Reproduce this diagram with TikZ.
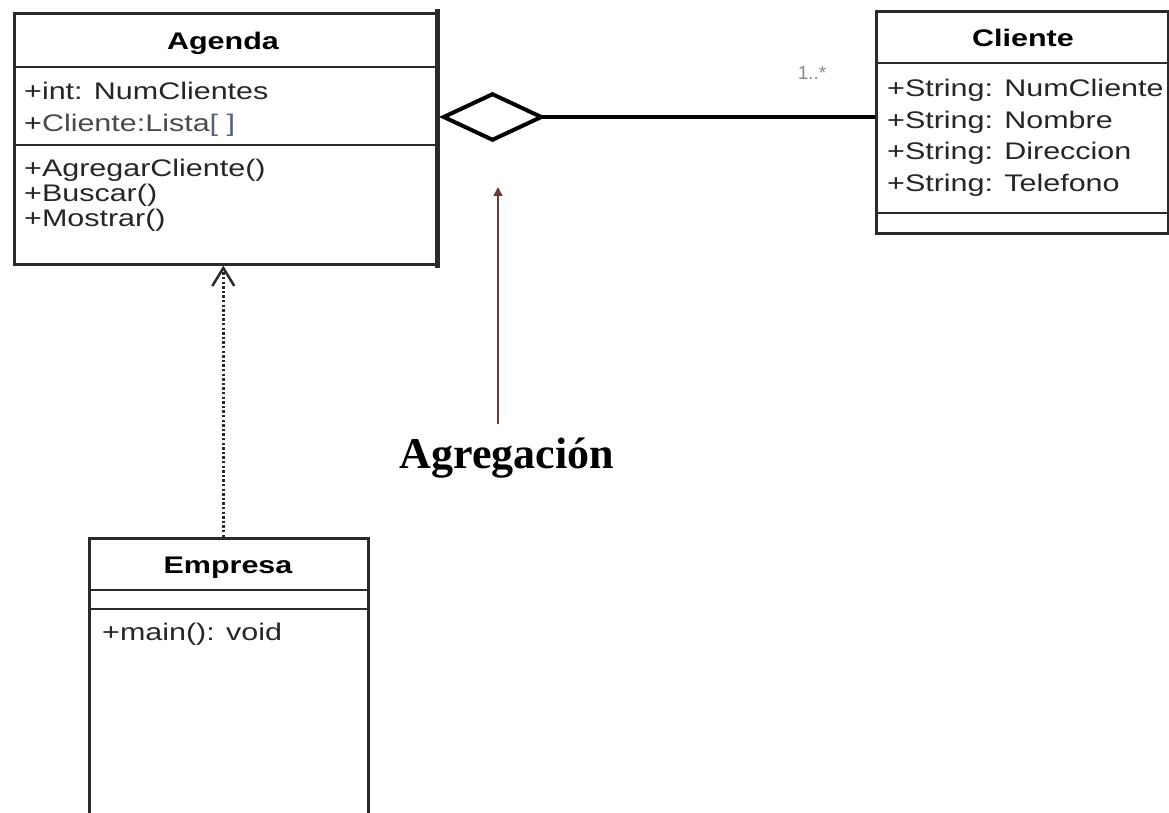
\documentclass[tikz,border=0pt]{standalone}
\usepackage{fontspec}
\setmainfont{Liberation Serif}
\setsansfont{Liberation Sans}
\usetikzlibrary{arrows.meta}

% UML member text is set a little wider than the font's natural width
\newcommand{\umlwide}[1]{\scalebox{1.27}[1]{#1}}

\definecolor{boxline}{HTML}{2A2A2A}
\definecolor{membertxt}{HTML}{262626}
\definecolor{softtxt}{HTML}{4A4A4A}
\definecolor{bracket}{HTML}{56607A}
\definecolor{notebrown}{HTML}{6B3B36}
\definecolor{multgray}{HTML}{8A8A8A}

\begin{document}
\begin{tikzpicture}[x=1pt,y=-1pt,
  umlbox/.style={draw=boxline, line width=2.6pt, inner sep=0pt, anchor=north west},
  divider/.style={draw=boxline, line width=2.6pt},
  member/.style={anchor=base west, inner sep=0pt, text=membertxt,
    font=\sffamily\fontsize{24}{24}\selectfont},
  classname/.style={anchor=base, inner sep=0pt, text=black,
    font=\sffamily\bfseries\fontsize{24}{24}\selectfont},
  aggr/.style={draw=black, line width=4pt,
    -{Diamond[open, length=107pt, width=50pt]}},
  depend/.style={draw=boxline, line width=3pt, dash pattern=on 2.4pt off 2.2pt,
    -{Straight Barb[length=18pt, width=22pt, line width=2.5pt]}},
  noteline/.style={draw=notebrown, line width=1.6pt,
    -{Triangle[length=9pt, width=9pt]}},
  mult/.style={inner sep=0pt, text=multgray, font=\sffamily\fontsize{19}{19}\selectfont}
]
\useasboundingbox (0,0) rectangle (1169,813);
\clip (0,0) rectangle (1169,813);
\fill[white] (0,0) rectangle (1169,813);

% ---- class Agenda ----
\node[umlbox, minimum width=422pt, minimum height=251pt] (agenda) at (13,12) {};
\draw[divider] ([yshift=-55pt]agenda.north west) -- ([yshift=-55pt]agenda.north east);
\draw[divider] ([yshift=-133pt]agenda.north west) -- ([yshift=-133pt]agenda.north east);
\draw[boxline, line width=5.5pt] ([yshift=3pt]agenda.north east) -- ([yshift=-2pt]agenda.south east);
\node[classname] (agendaT) at (223,50) {\umlwide{Agenda}};
\node[member] (agA1) at (24,100) {\umlwide{+int: NumClientes}};
\node[member] (agA2) at (24,132) {\umlwide{+\textcolor{softtxt}{Cliente:Lista}\textcolor{bracket}{[ ]}}};
\node[member] (agM1) at (24,177) {\umlwide{+AgregarCliente()}};
\node[member] (agM2) at (24,201) {\umlwide{+Buscar()}};
\node[member] (agM3) at (24,226) {\umlwide{+Mostrar()}};

% ---- class Cliente ----
\node[umlbox, minimum width=292pt, minimum height=222pt] (cliente) at (875,10) {};
\draw[divider] ([yshift=-53pt]cliente.north west) -- ([yshift=-53pt]cliente.north east);
\draw[divider] ([yshift=-203pt]cliente.north west) -- ([yshift=-203pt]cliente.north east);
\node[classname] (clienteT) at (1023,47) {\umlwide{Cliente}};
\node[member] (clA1) at (887,97) {\umlwide{+String: NumCliente}};
\node[member] (clA2) at (887,128.5) {\umlwide{+String: Nombre}};
\node[member] (clA3) at (887,160) {\umlwide{+String: Direccion}};
\node[member] (clA4) at (887,192) {\umlwide{+String: Telefono}};

% ---- class Empresa ----
\node[umlbox, minimum width=279pt, minimum height=290pt] (empresa) at (88,537) {};
\draw[divider] ([yshift=-53pt]empresa.north west) -- ([yshift=-53pt]empresa.north east);
\draw[divider] ([yshift=-72pt]empresa.north west) -- ([yshift=-72pt]empresa.north east);
\node[classname] (empresaT) at (228,573) {\umlwide{Empresa}};
\node[member] (emM1) at (102,640) {\umlwide{+main(): void}};

% ---- aggregation Agenda <>--- Cliente ----
\coordinate (aggL) at (439,117);
\draw[aggr] (cliente.west |- aggL) -- (aggL);
\node[mult] (multC) at (812,73) {1..*};

% ---- dependency Empresa ...> Agenda ----
\draw[depend] ([xshift=-5.5pt]empresa.north) -- ([xshift=-5.5pt]empresa.north |- agenda.south);

% ---- annotation ----
\node[inner sep=0pt, text=black, font=\bfseries\fontsize{44}{44}\selectfont] (aggLabel) at (507,458) {Agregación};
\coordinate (aggPointer) at (498,187);
\draw[noteline] (aggLabel.north -| aggPointer) ++(0,-14) -- (aggPointer);
\end{tikzpicture}
\end{document}
